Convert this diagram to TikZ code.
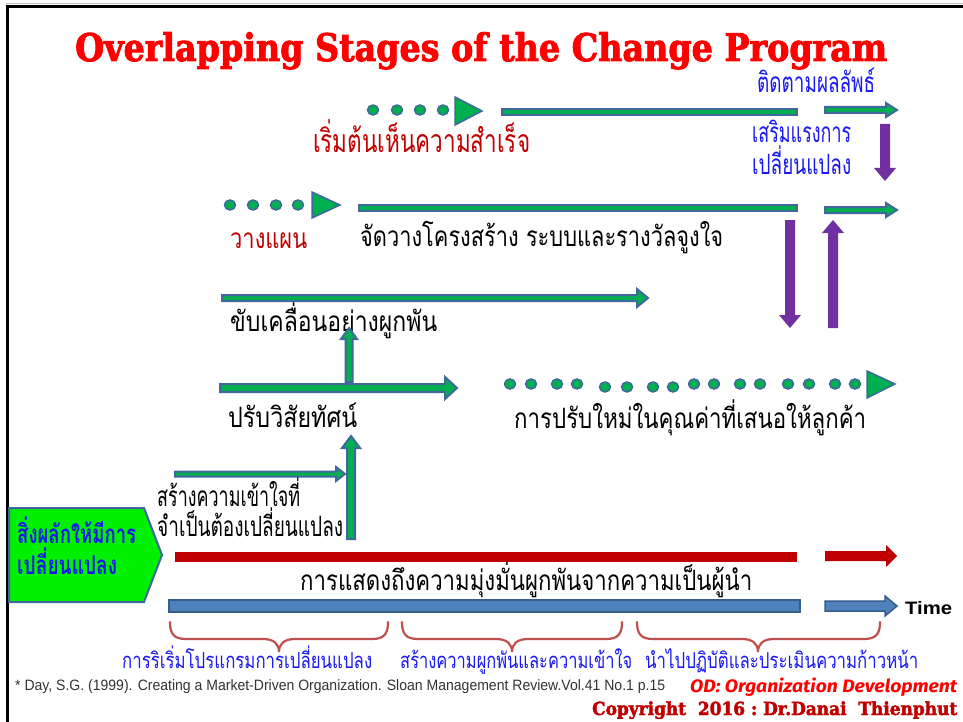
\documentclass[tikz,border=0pt]{standalone}
\usepackage{fontspec}
\usepackage{graphicx}
\setmainfont{Liberation Sans}
\newfontfamily\thai[Script=Thai]{Loma}
\newfontfamily\heavyfont{DejaVu Serif}[UprightFont={* Bold}, FakeBold=2.5]
\newfontfamily\odfont{Fira Sans}
\definecolor{grn}{HTML}{00B050}
\definecolor{outl}{HTML}{41689C}
\definecolor{purp}{HTML}{7030A0}
\definecolor{dred}{HTML}{C00000}
\definecolor{tblue}{HTML}{1A1AF0}
\definecolor{barblue}{HTML}{4F81BD}
\definecolor{barblueD}{HTML}{385D8A}
\definecolor{brc}{HTML}{C0504D}
\definecolor{lime}{HTML}{00F000}
\newcommand\fitw[2]{\resizebox{#1pt}{\height}{#2}}
\newcommand\HArrow[7]{\filldraw[#7] ({#1},{#3-#4}) -- ({#2-#6},{#3-#4}) -- ({#2-#6},{#3-#5}) -- ({#2},{#3}) -- ({#2-#6},{#3+#5}) -- ({#2-#6},{#3+#4}) -- ({#1},{#3+#4}) -- cycle;}
\newcommand\UpArrow[7]{\filldraw[#7] ({#1-#4},{#2}) -- ({#1-#4},{#3+#6}) -- ({#1-#5},{#3+#6}) -- ({#1},{#3}) -- ({#1+#5},{#3+#6}) -- ({#1+#4},{#3+#6}) -- ({#1+#4},{#2}) -- cycle;}
\newcommand\DownArrow[7]{\filldraw[#7] ({#1-#4},{#2}) -- ({#1-#4},{#3-#6}) -- ({#1-#5},{#3-#6}) -- ({#1},{#3}) -- ({#1+#5},{#3-#6}) -- ({#1+#4},{#3-#6}) -- ({#1+#4},{#2}) -- cycle;}
\tikzset{
  garrow/.style={fill=grn, draw=outl, line width=2},
  parrow/.style={fill=purp, draw=none},
  rarrow/.style={fill=dred, draw=none},
  barrow/.style={fill=barblue, draw=barblueD, line width=1.5},
  dot/.style={ellipse, fill=grn, draw=outl, line width=1.5, minimum width=11pt, minimum height=10pt, inner sep=0},
  tri/.style={fill=grn, draw=outl, line width=1.5, line join=miter},
  txt/.style={anchor=base west, inner sep=0, font=\thai\fontsize{28}{32}\selectfont},
  rtxt/.style={txt, text=dred},
  btxt/.style={txt, text=tblue},
  brace/.style={draw=brc, line width=2.2, line cap=round},
}
\usetikzlibrary{shapes.geometric}
\begin{document}
\begin{tikzpicture}[x=1pt,y=-1pt]
\useasboundingbox (0,0) rectangle (963,722);
\fill[white] (0,0) rectangle (963,722);
% frame
\draw[gray!50, line width=1] (6,3.5) -- (963,3.5);
\draw[black, line width=3] (6,6.5) -- (963,6.5);
\draw[black, line width=3] (7.5,5) -- (7.5,722);

% title
\node[anchor=base west, inner sep=0, text=red, font=\heavyfont\fontsize{38}{42}\selectfont] (title) at (75,61) {\fitw{812}{Overlapping Stages of the Change Program}};

% row 1
\node[btxt] (followup) at (757,93) {\fitw{118}{ติดตามผลลัพธ์}};
\foreach \i/\x in {1/373,2/397,3/420,4/443} \node[dot] (d1\i) at (\x,110) {};
\filldraw[tri] (455,97) -- (482,111) -- (455,125) -- cycle;
\filldraw[garrow] (502,109) rectangle (797,115);
\HArrow{825}{897}{110}{3}{7}{11}{garrow}
\node[rtxt, font=\thai\fontsize{32}{36}\selectfont] (success) at (313,153) {\fitw{217}{เริ่มต้นเห็นความสำเร็จ}};
\node[btxt] (reinf1) at (752,143) {\fitw{99}{เสริมแรงการ}};
\node[btxt] (reinf2) at (752,175) {\fitw{99}{เปลี่ยนแปลง}};
\DownArrow{885}{124}{181}{5}{11}{13}{parrow}

% row 2
\foreach \i/\x in {1/230,2/253,3/276,4/298} \node[dot] (d2\i) at (\x,205) {};
\filldraw[tri] (312,192) -- (340,205) -- (312,218) -- cycle;
\filldraw[garrow] (359,205) rectangle (797,211);
\HArrow{825}{897}{210}{3}{7}{11}{garrow}
\node[rtxt] (plan) at (230,248) {\fitw{77}{วางแผน}};
\node[txt] (struct) at (360,246) {\fitw{363}{จัดวางโครงสร้าง ระบบและรางวัลจูงใจ}};
\DownArrow{790}{220}{328}{5}{11}{13}{parrow}
\UpArrow{833}{328}{220}{5}{11}{13}{parrow}

% row 3
\HArrow{222}{648}{298}{3}{9}{11}{garrow}
\node[txt] (drive) at (230,331) {\fitw{207}{ขับเคลื่อนอย่างผูกพัน}};
\UpArrow{349}{382}{328}{3.5}{8}{11}{garrow}

% row 4
\HArrow{220}{457}{388}{4}{11}{12}{garrow}
\node[txt] (vision) at (228,427) {\fitw{129}{ปรับวิสัยทัศน์}};
\foreach \i/\x/\y in {1/510/384,2/531/384,3/557/384,4/577/384,5/605/387,6/627/387,7/653/387,8/673/387,9/694/384,10/714/384,11/740/384,12/760/384,13/788/384,14/809/384,15/835/384,16/855/384}
  \node[dot] (d4\i) at (\x,\y) {};
\filldraw[tri] (867,371) -- (895,384) -- (867,398) -- cycle;
\node[txt] (value) at (514,428) {\fitw{352}{การปรับใหม่ในคุณค่าที่เสนอให้ลูกค้า}};

% row 5
\HArrow{175}{345}{474}{2.5}{7}{9}{garrow}
\UpArrow{351}{539}{436}{4}{9}{12}{garrow}
\node[txt] (under1) at (157,506) {\fitw{143}{สร้างความเข้าใจที่}};
\node[txt] (under2) at (157,536) {\fitw{186}{จำเป็นต้องเปลี่ยนแปลง}};

% driver box
\filldraw[fill=lime, draw=outl, line width=2] (9,508) -- (144,508) -- (162,555) -- (144,602) -- (9,602) -- cycle;
\node[btxt, font=\thai\bfseries\fontsize{26}{30}\selectfont] (push1) at (17,543) {\fitw{119}{สิ่งผลักให้มีการ}};
\node[btxt, font=\thai\bfseries\fontsize{26}{30}\selectfont] (push2) at (17,574) {\fitw{100}{เปลี่ยนแปลง}};

% leadership bar
\fill[dred] (175,551.5) rectangle (797,561.5);
\HArrow{825}{897}{556}{5}{11}{11}{rarrow}
\node[txt] (lead) at (300,590) {\fitw{452}{การแสดงถึงความมุ่งมั่นผูกพันจากความเป็นผู้นำ}};

% time bar
\filldraw[fill=barblue, draw=barblueD, line width=1.5] (169,600) rectangle (800,612);
\HArrow{825}{897}{606}{5}{10}{12}{barrow}
\node[anchor=base west, inner sep=0, font=\bfseries\fontsize{18}{20}\selectfont] (time) at (905,614) {\fitw{47}{Time}};

% braces
\draw[brace] (170,622) .. controls (170,634) and (174,639) .. (186,639) -- (263,639) .. controls (274,639) and (279,644) .. (279,652) .. controls (279,644) and (284,639) .. (295,639) -- (372,639) .. controls (384,639) and (388,634) .. (388,622);
\draw[brace] (402,622) .. controls (402,634) and (406,639) .. (418,639) -- (496,639) .. controls (507,639) and (512,644) .. (512,652) .. controls (512,644) and (517,639) .. (528,639) -- (606,639) .. controls (618,639) and (622,634) .. (622,622);
\draw[brace] (637,622) .. controls (637,634) and (641,639) .. (653,639) -- (742,639) .. controls (753,639) and (758,644) .. (758,652) .. controls (758,644) and (763,639) .. (774,639) -- (864,639) .. controls (876,639) and (880,634) .. (880,622);

\node[btxt, font=\thai\fontsize{22}{26}\selectfont] (ph1) at (122,668) {\fitw{250}{การริเริ่มโปรแกรมการเปลี่ยนแปลง}};
\node[btxt, font=\thai\fontsize{22}{26}\selectfont] (ph2) at (400,668) {\fitw{232}{สร้างความผูกพันและความเข้าใจ}};
\node[btxt, font=\thai\fontsize{22}{26}\selectfont] (ph3) at (645,668) {\fitw{273}{นำไปปฏิบัติและประเมินความก้าวหน้า}};

% footer
\node[anchor=base west, inner sep=0, text=black!80, font=\fontsize{15}{17}\selectfont] (cite) at (15,690) {\fitw{650}{* Day, S.G. (1999). Creating a Market-Driven Organization. Sloan Management Review.Vol.41 No.1 p.15}};
\node[anchor=base west, inner sep=0, text=red, font=\odfont\bfseries\itshape\fontsize{18}{20}\selectfont] (od) at (690,692) {\fitw{267}{OD: Organization Development}};
\node[anchor=base west, inner sep=0, text=dred, font=\heavyfont\fontsize{18}{20}\selectfont] (copy) at (592,715) {\fitw{365}{Copyright\ \ 2016\ :\ Dr.Danai\ \ Thienphut}};
\end{tikzpicture}
\end{document}
